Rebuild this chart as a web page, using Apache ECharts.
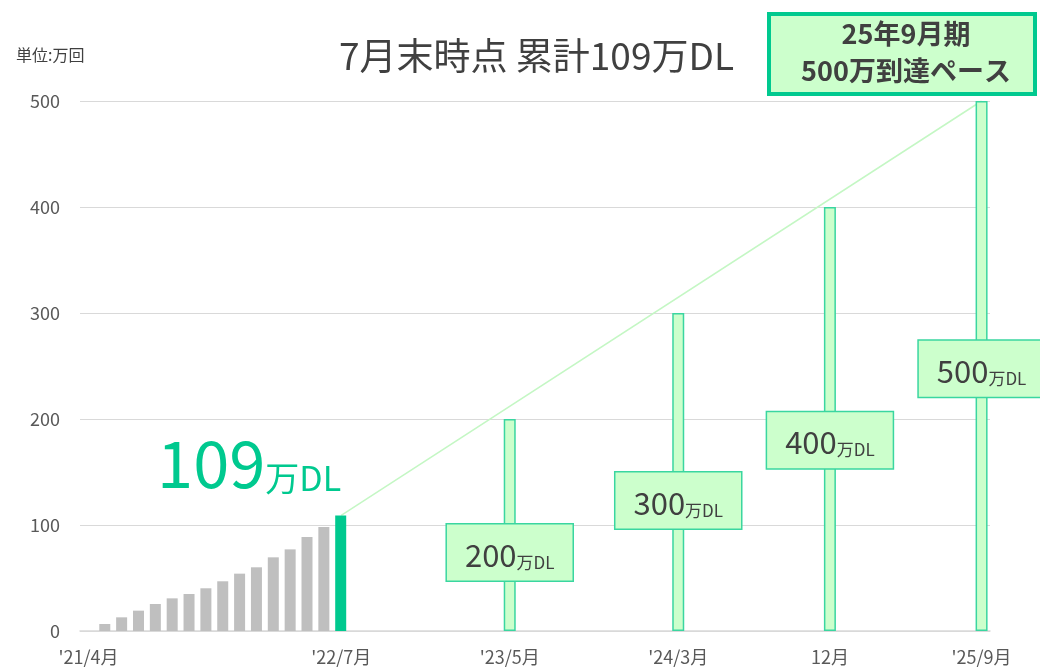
<!DOCTYPE html>
<html>
<head>
<meta charset="utf-8">
<script src="https://cdn.jsdelivr.net/npm/echarts@6/dist/echarts.min.js"></script>
<style>
html,body{margin:0;padding:0;background:#fff;}
#c{width:1040px;height:668px;}
</style>
</head>
<body>
<div id="c"></div>
<script>
// ---- data ----
const categories = [
  "21/4","21/5","21/6","21/7","21/8","21/9","21/10","21/11","21/12",
  "22/1","22/2","22/3","22/4","22/5","22/6","22/7","22/8","22/9","22/10","22/11","22/12",
  "23/1","23/2","23/3","23/4","23/5","23/6","23/7","23/8","23/9","23/10","23/11","23/12",
  "24/1","24/2","24/3","24/4","24/5","24/6","24/7","24/8","24/9","24/10","24/11","24/12",
  "25/1","25/2","25/3","25/4","25/5","25/6","25/7","25/8","25/9"
];
// monthly cumulative downloads (万), '21/4 .. '22/6
const actualMonths = ["21/4","21/5","21/6","21/7","21/8","21/9","21/10","21/11","21/12","22/1","22/2","22/3","22/4","22/5","22/6"];
const actualValues = [0, 6.6, 12.9, 19.2, 25.5, 30.8, 34.9, 40.3, 46.9, 54.1, 60.1, 69.5, 77.0, 88.7, 98.1];
const currentMonth = "22/7";
const currentValue = 109;
const targetMonths = ["23/5","24/3","24/12","25/9"];
const targetValues = [200, 300, 400, 500];
const tickLabels = {"21/4":"'21/4月","22/7":"'22/7月","23/5":"'23/5月","24/3":"'24/3月","24/12":"12月","25/9":"'25/9月"};
const yMin = 0, yMax = 500, yStep = 100;

// ---- build series data ----
const grayData = categories.map(c => { const i = actualMonths.indexOf(c); return i >= 0 ? actualValues[i] : null; });
const greenData = categories.map(c => c === currentMonth ? currentValue : null);
const targetLabelPos = [['50%','63%'],['50%','59%'],['50%','55%'],['50%','50.5%']];
const targetData = categories.map(c => {
  const i = targetMonths.indexOf(c);
  if (i < 0) return null;
  return { value: targetValues[i], label: { position: targetLabelPos[i] } };
});
const lastTarget = targetMonths[targetMonths.length - 1];
const lineData = categories.map(c => c === currentMonth ? currentValue : (c === lastTarget ? targetValues[targetValues.length - 1] : null));

const FONT = '"Noto Sans CJK JP","Noto Sans",sans-serif';
const chart = echarts.init(document.getElementById('c'), null, {renderer: 'canvas'});
chart.setOption({
  animation: false,
  textStyle: {fontFamily: FONT},
  title: [
    {text: '7月末時点 累計109万DL', left: 334, top: 32,
     textStyle: {fontSize: 37, fontWeight: 'normal', color: '#404040', fontFamily: FONT}},
    {text: '単位:万回', left: 11, top: 42,
     textStyle: {fontSize: 16, fontWeight: 'normal', color: '#404040', fontFamily: FONT}}
  ],
  graphic: [
    {type: 'rect', shape: {x: 769, y: 14, width: 266, height: 80},
     style: {fill: '#ccffcc', stroke: '#00c98f', lineWidth: 4}, z: 10},
    {type: 'text', x: 906, y: 52, z: 11,
     style: {text: '25年9月期\n500万到達ペース', fill: '#404040', font: 'bold 27px ' + FONT,
             align: 'center', verticalAlign: 'middle', lineHeight: 37}}
  ],
  grid: {left: 80, right: 50, top: 101, bottom: 37, containLabel: false},
  xAxis: {
    type: 'category', data: categories, boundaryGap: true,
    axisLine: {lineStyle: {color: '#d9d9d9', width: 1.5}},
    axisTick: {show: false},
    axisLabel: {
      interval: (idx, val) => tickLabels[val] !== undefined,
      formatter: v => tickLabels[v] || '',
      color: '#595959', fontSize: 18, margin: 17, fontFamily: FONT
    },
    splitLine: {show: false}
  },
  yAxis: {
    type: 'value', min: yMin, max: yMax, interval: yStep,
    axisLine: {show: false}, axisTick: {show: false},
    axisLabel: {color: '#595959', fontSize: 18, margin: 20, fontFamily: FONT},
    splitLine: {lineStyle: {color: '#d9d9d9', width: 1}}
  },
  series: [
    {type: 'line', data: lineData, connectNulls: true, symbol: 'none',
     lineStyle: {color: '#c4f7c4', width: 1.5}, z: 1},
    {type: 'bar', data: grayData, barWidth: 11, barGap: '-100%',
     itemStyle: {color: '#bfbfbf'}, z: 2},
    {type: 'bar', data: greenData, barWidth: 11, barGap: '-100%',
     itemStyle: {color: '#00c98f'}, z: 3,
     label: {show: true, position: ['100%', 0], align: 'right', verticalAlign: 'bottom',
       offset: [-5, -20],
       formatter: p => '{a|' + p.value + '}{b|万DL}',
       rich: {
         a: {fontSize: 65, color: '#00c98f', fontFamily: FONT, verticalAlign: 'bottom', lineHeight: 68},
         b: {fontSize: 34, color: '#00c98f', fontFamily: FONT, verticalAlign: 'bottom', lineHeight: 52}
       }}},
    {type: 'bar', data: targetData, barWidth: 12, barGap: '-100%',
     itemStyle: {color: '#ccffcc', borderColor: '#3ad6a0', borderWidth: 1.5}, z: 4,
     label: {show: true, align: 'center', verticalAlign: 'middle',
       backgroundColor: '#ccffcc', borderColor: '#3ad6a0', borderWidth: 1.5,
       padding: [10, 18, 10, 18],
       formatter: p => '{a|' + p.value + '}{b|万DL}',
       rich: {
         a: {fontSize: 31, color: '#404040', fontFamily: FONT, verticalAlign: 'bottom', lineHeight: 36},
         b: {fontSize: 17, color: '#404040', fontFamily: FONT, verticalAlign: 'bottom', lineHeight: 28}
       }}}
  ]
});
</script>
</body>
</html>
